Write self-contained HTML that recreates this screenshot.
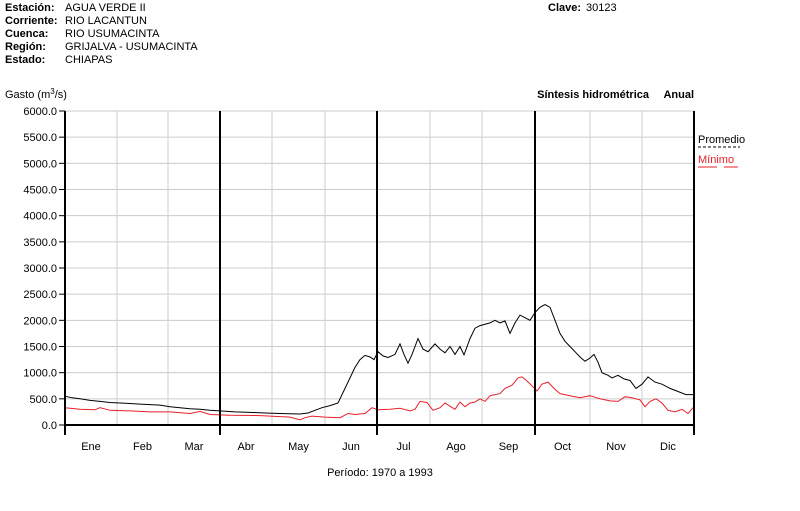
<!DOCTYPE html>
<html><head><meta charset="utf-8"><style>
body{margin:0;background:#fff;width:800px;height:511px;overflow:hidden}
svg{display:block}
text{font-family:"Liberation Sans",Arial,sans-serif;font-size:11px;fill:#000}
.b{font-weight:bold}
</style></head><body>
<svg id="s" width="800" height="511" xmlns="http://www.w3.org/2000/svg">
<text x="5" y="11" class="b">Estación:</text><text x="65" y="11">AGUA VERDE II</text>
<text x="5" y="24" class="b">Corriente:</text><text x="65" y="24">RIO LACANTUN</text>
<text x="5" y="37" class="b">Cuenca:</text><text x="65" y="37">RIO USUMACINTA</text>
<text x="5" y="50" class="b">Región:</text><text x="65" y="50">GRIJALVA - USUMACINTA</text>
<text x="5" y="63" class="b">Estado:</text><text x="65" y="63">CHIAPAS</text>
<text x="548" y="11" class="b">Clave:</text><text x="586" y="11">30123</text>
<text x="5" y="98">Gasto (m<tspan dy="-4" font-size="8">3</tspan><tspan dy="4">/s)</tspan></text>
<text x="649" y="98" class="b" text-anchor="end">Síntesis hidrométrica</text>
<text x="694" y="98" class="b" text-anchor="end">Anual</text>
<text x="698" y="143">Promedio</text>
<line x1="698" y1="147" x2="740" y2="147" stroke="#000" stroke-dasharray="3,2"/>
<text x="698" y="163" style="fill:#e8202a">Mínimo</text>
<line x1="698" y1="167" x2="717" y2="167" stroke="#e8202a"/><line x1="724" y1="167" x2="738" y2="167" stroke="#e8202a"/>
<text x="380" y="476" text-anchor="middle">Período:  1970 a 1993</text>
<g id="g"></g>
</svg>
<script>
var g=document.getElementById('g'),h='';
var L=65,R=694,T=111,B=425;
function Y(v){return B-v*(B-T)/6000;}
for(var i=0;i<=12;i++){var v=i*500,y=Y(v);h+='<line x1="'+L+'" x2="'+R+'" y1="'+y+'" y2="'+y+'" stroke="#ccc"/>';
h+='<text x="57" y="'+(y+4)+'" text-anchor="end">'+v.toFixed(1)+'</text>';h+='<line x1="59" x2="'+L+'" y1="'+y+'" y2="'+y+'" stroke="#000"/>';}
var mx=[65,117,168,220,272,325,377,430,482,535,590,642,694];
var mn=['Ene','Feb','Mar','Abr','May','Jun','Jul','Ago','Sep','Oct','Nov','Dic'];
for(var i=0;i<13;i++){h+='<line x1="'+mx[i]+'" x2="'+mx[i]+'" y1="'+T+'" y2="'+B+'" stroke="#ccc"/>';
if(i<12)h+='<text x="'+((mx[i]+mx[i+1])/2)+'" y="450" text-anchor="middle">'+mn[i]+'</text>';}
var blk=[[65,550],[72,520],[80,500],[90,470],[100,450],[110,430],[120,420],[130,410],[140,400],[150,390],[160,380],[170,350],[180,330],[190,310],[200,300],[210,280],[220,270],[235,250],[250,240],[265,230],[280,220],[300,210],[308,230],[315,280],[322,330],[330,370],[338,420],[345,700],[350,900],[355,1100],[360,1250],[365,1330],[370,1300],[374,1250],[378,1400],[383,1320],[388,1290],[395,1350],[400,1550],[404,1350],[408,1180],[412,1350],[418,1650],[423,1450],[428,1400],[435,1550],[440,1450],[445,1380],[450,1500],[455,1350],[460,1500],[464,1340],[470,1650],[475,1850],[480,1900],[490,1950],[495,2000],[500,1950],[505,1990],[510,1750],[515,1950],[520,2100],[525,2050],[530,2000],[535,2150],[540,2250],[545,2300],[550,2250],[555,2000],[560,1750],[565,1600],[570,1500],[575,1400],[580,1300],[585,1220],[590,1280],[594,1350],[598,1200],[602,1000],[608,950],[612,900],[618,950],[624,880],[630,850],[636,700],[642,780],[648,920],[655,820],[662,780],[670,700],[678,640],[686,580],[694,580]];
var red=[[65,330],[80,300],[95,290],[100,330],[110,280],[130,270],[150,250],[170,250],[190,220],[200,260],[210,200],[230,185],[260,180],[290,150],[300,100],[305,140],[312,170],[325,150],[340,140],[348,220],[355,200],[365,220],[372,330],[378,290],[390,300],[400,320],[410,270],[415,300],[420,450],[427,430],[433,280],[440,330],[445,420],[450,360],[455,300],[460,440],[465,350],[470,420],[475,440],[480,500],[485,450],[490,560],[500,600],[505,700],[512,760],[518,900],[522,920],[527,840],[532,750],[537,650],[542,780],[548,820],[554,700],[560,600],[570,560],[580,520],[590,560],[600,500],[610,460],[618,450],[625,540],[632,520],[640,480],[645,350],[650,450],[656,500],[662,420],[668,280],[675,250],[682,300],[688,220],[694,350]];
function P(a){return a.map(function(p){return p[0]+','+Y(p[1]).toFixed(1)}).join(' ');}
h+='<polyline points="'+P(red)+'" fill="none" stroke="#e8202a" stroke-width="1"/>';
h+='<polyline points="'+P(blk)+'" fill="none" stroke="#000" stroke-width="1"/>';
[65,220,377,535,694].forEach(function(x){h+='<line x1="'+x+'" x2="'+x+'" y1="'+T+'" y2="435" stroke="#000" stroke-width="2"/>';});
h+='<line x1="'+L+'" x2="'+R+'" y1="'+B+'" y2="'+B+'" stroke="#000" stroke-width="2"/>';
g.innerHTML=h;
</script>
</body></html>
